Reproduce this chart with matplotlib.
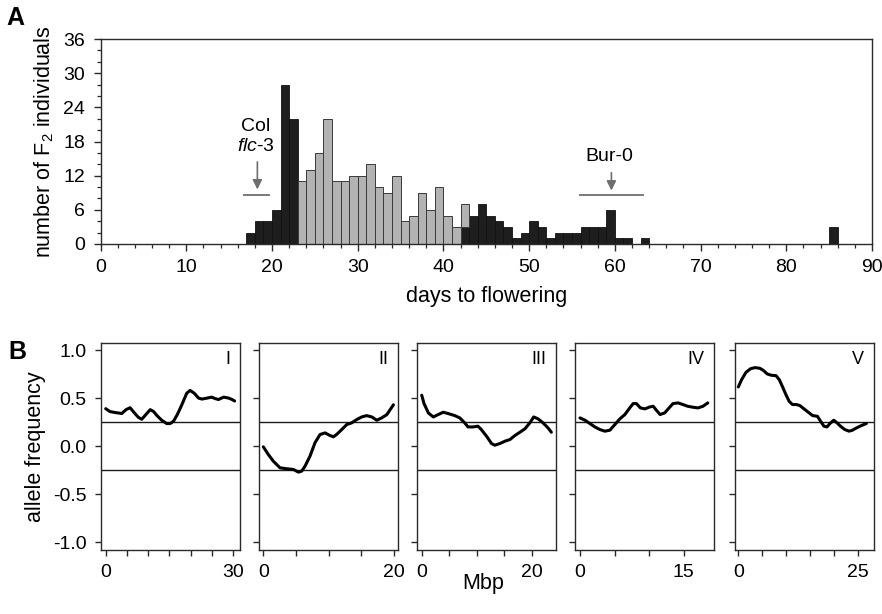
import matplotlib
matplotlib.use("Agg")
import matplotlib.pyplot as plt
from matplotlib.ticker import MultipleLocator, FixedLocator, FixedFormatter
import numpy as np

plt.rcParams['font.family'] = ['Liberation Sans', 'DejaVu Sans']
plt.rcParams['mathtext.fontset'] = 'custom'
plt.rcParams['mathtext.rm'] = 'Liberation Sans'
plt.rcParams['mathtext.it'] = 'Liberation Sans:italic'

# ---------------- Panel A data ----------------
black_days = [17, 18, 19, 20, 21, 22,
              42, 43, 44, 45, 46, 47, 48, 49, 50, 51, 52, 53, 54, 55, 56, 57, 58, 59, 60, 61, 63, 85]
black_counts = [2, 4, 4, 6, 28, 22,
                3, 5, 7, 5, 4, 3, 1, 2, 4, 3, 1, 2, 2, 2, 3, 3, 3, 6, 1, 1, 1, 3]
grey_days = [23, 24, 25, 26, 27, 28, 29, 30, 31, 32, 33, 34, 35, 36, 37, 38, 39, 40, 41, 42]
grey_counts = [11, 13, 16, 22, 11, 11, 12, 12, 14, 10, 9, 12, 4, 5, 9, 6, 10, 5, 3, 4]
grey_bottom = [0] * 19 + [3]

# ---------------- Panel B data ----------------
chrom_names = ["I", "II", "III", "IV", "V"]
chrom_xlims = [(-1.18, 31.6), (-0.66, 20.6), (-0.8, 24.4), (-0.72, 19.4), (-0.69, 28.3)]
chrom_ticklabels = [(0, 30), (0, 20), (0, 20), (0, 15), (0, 25)]

chr1_pos = [0, 1.0, 2.2, 3.8, 4.8, 5.75, 6.5, 7.7, 8.5, 9.3, 10.5, 11.3, 12.05, 13.2, 14.4, 15.2,
            16.0, 16.9, 17.95, 19.1, 19.9, 20.9, 21.9, 22.7, 23.9, 25.0, 25.8, 26.6, 27.8, 29.0, 29.8, 30.4]
chr1_freq = [0.39, 0.36, 0.35, 0.34, 0.38, 0.40, 0.36, 0.30, 0.28, 0.32, 0.38, 0.36, 0.32, 0.27, 0.235, 0.235,
             0.26, 0.33, 0.43, 0.55, 0.58, 0.55, 0.50, 0.49, 0.50, 0.51, 0.495, 0.485, 0.51, 0.50, 0.485, 0.47]

chr2_pos = [0, 0.77, 1.53, 2.55, 3.57, 4.6, 5.36, 5.87, 6.38, 7.14, 7.9, 8.67, 9.44, 10.2, 10.7, 11.2,
            12.0, 12.76, 13.5, 14.3, 15.05, 15.8, 16.6, 17.35, 18.1, 18.9, 19.4, 19.9]
chr2_freq = [-0.007, -0.087, -0.156, -0.225, -0.235, -0.242, -0.27, -0.26, -0.208, -0.104, 0.035, 0.121,
             0.138, 0.111, 0.097, 0.121, 0.173, 0.225, 0.242, 0.277, 0.304, 0.318, 0.304, 0.27, 0.294,
             0.329, 0.38, 0.43]

chr3_pos = [0, 0.42, 1.2, 2.1, 3.0, 3.9, 4.8, 6.0, 6.9, 7.8, 8.4, 9.3, 10.2, 10.8, 11.75, 12.65, 13.25,
            14.2, 15.1, 16.0, 16.9, 17.8, 18.7, 19.6, 20.3, 21.1, 22.0, 22.9, 23.5]
chr3_freq = [0.53, 0.443, 0.346, 0.304, 0.329, 0.353, 0.339, 0.318, 0.294, 0.242, 0.2, 0.2, 0.208, 0.173,
             0.104, 0.028, 0.01, 0.028, 0.052, 0.069, 0.111, 0.145, 0.18, 0.242, 0.304, 0.284, 0.242,
             0.19, 0.145]

chr4_pos = [0, 0.72, 1.44, 2.16, 2.88, 3.6, 4.33, 5.05, 5.77, 6.5, 7.1, 7.7, 8.17, 8.75, 9.4, 10.1, 10.6,
            11.06, 11.6, 12.26, 12.9, 13.46, 14.2, 14.9, 15.6, 16.35, 17.07, 17.8, 18.5]
chr4_freq = [0.294, 0.27, 0.235, 0.2, 0.173, 0.156, 0.166, 0.225, 0.284, 0.329, 0.388, 0.443, 0.443,
             0.398, 0.388, 0.408, 0.415, 0.374, 0.329, 0.346, 0.398, 0.443, 0.45, 0.433, 0.415, 0.405,
             0.398, 0.415, 0.45]

chr5_pos = [0, 0.69, 1.6, 2.57, 3.47, 4.5, 5.2, 6.04, 6.94, 7.85, 8.54, 9.24, 9.93, 10.6, 11.3, 12.15,
            12.85, 13.7, 14.6, 15.5, 16.5, 17.15, 17.85, 18.5, 19.1, 19.9, 20.6, 21.3, 22.2, 23.1, 23.8,
            24.65, 25.7, 26.7]
chr5_freq = [0.616, 0.692, 0.768, 0.806, 0.817, 0.81, 0.789, 0.751, 0.737, 0.734, 0.692, 0.616, 0.536,
             0.467, 0.433, 0.433, 0.422, 0.388, 0.353, 0.318, 0.311, 0.26, 0.208, 0.2, 0.235, 0.27, 0.242,
             0.208, 0.173, 0.156, 0.166, 0.19, 0.215, 0.235]

chrom_pos = [chr1_pos, chr2_pos, chr3_pos, chr4_pos, chr5_pos]
chrom_freq = [chr1_freq, chr2_freq, chr3_freq, chr4_freq, chr5_freq]
thresholds = [0.25, -0.25]

W, H = 882, 614
fig = plt.figure(figsize=(W / 100, H / 100), dpi=100)

def fx(px):
    return px / W

def fy(py):
    return 1 - py / H

spine_col = '#2a2a2a'
tick_fs = 14
label_fs = 15.5

# ---------------- Panel A ----------------
axA = fig.add_axes([fx(100.5), fy(244), fx(872 - 100.5), (244 - 39) / H])
axA.bar(black_days, black_counts, width=1.0, align='edge', color='#1e1e1e',
        edgecolor='#111111', linewidth=0.6, zorder=2)
axA.bar(grey_days, grey_counts, width=1.0, align='edge', bottom=grey_bottom, color='#b3b3b3',
        edgecolor='#3a3a3a', linewidth=0.7, zorder=2)
axA.set_xlim(0, 90)
axA.set_ylim(0, 36)
axA.xaxis.set_major_locator(MultipleLocator(10))
axA.xaxis.set_minor_locator(MultipleLocator(2))
axA.yaxis.set_major_locator(MultipleLocator(6))
axA.yaxis.set_minor_locator(MultipleLocator(2))
axA.tick_params(which='major', direction='out', length=5, width=1.0, color=spine_col,
                labelsize=tick_fs, pad=6)
axA.tick_params(which='minor', direction='out', length=3, width=0.9, color=spine_col)
for s in axA.spines.values():
    s.set_linewidth(1.0)
    s.set_color(spine_col)
axA.set_xlabel('days to flowering', fontsize=label_fs, labelpad=7)
axA.set_ylabel('number of F$_2$ individuals', fontsize=label_fs, labelpad=5)

arrow_col = '#6e6e6e'
axA.plot([16.7, 19.7], [8.6, 8.6], color=arrow_col, lw=1.3)
axA.annotate('', xy=(18.3, 9.1), xytext=(18.3, 14.9),
             arrowprops=dict(arrowstyle='-|>', color=arrow_col, lw=1.2, mutation_scale=14))
axA.text(18.1, 20.6, 'Col', ha='center', va='center', fontsize=14)
axA.text(18.1, 17.2, r'$\mathit{flc}$-3', ha='center', va='center', fontsize=14)
axA.plot([55.9, 63.3], [8.6, 8.6], color=arrow_col, lw=1.3)
axA.annotate('', xy=(59.6, 8.9), xytext=(59.6, 13.0),
             arrowprops=dict(arrowstyle='-|>', color=arrow_col, lw=1.2, mutation_scale=14))
axA.text(59.3, 15.4, 'Bur-0', ha='center', va='center', fontsize=14)

fig.text(fx(15), fy(18), 'A', fontsize=18, fontweight='bold', ha='center', va='center')
fig.text(fx(17), fy(352), 'B', fontsize=18, fontweight='bold', ha='center', va='center')

# ---------------- Panel B ----------------
panel_lefts = [100.7, 259, 417.3, 575, 735]
panel_width = 139
top_px, bot_px = 343.3, 550
for i in range(5):
    ax = fig.add_axes([fx(panel_lefts[i]), fy(bot_px), panel_width / W, (bot_px - top_px) / H])
    for t in thresholds:
        ax.axhline(t, color='#1a1a1a', lw=1.0, zorder=1)
    ax.plot(chrom_pos[i], chrom_freq[i], color='black', lw=2.2, zorder=3,
            solid_capstyle='round', solid_joinstyle='round')
    ax.set_xlim(*chrom_xlims[i])
    ax.set_ylim(-1.08, 1.07)
    lo, hi = chrom_ticklabels[i]
    ticks = list(range(lo, hi + 1, 5))
    ax.xaxis.set_major_locator(FixedLocator(ticks))
    ax.xaxis.set_major_formatter(FixedFormatter([str(t) if t in (lo, hi) else '' for t in ticks]))
    ax.yaxis.set_major_locator(FixedLocator([-1.0, -0.5, 0.0, 0.5, 1.0]))
    if i == 0:
        ax.set_yticklabels(['-1.0', '-0.5', '0.0', '0.5', '1.0'])
        ax.set_ylabel('allele frequency', fontsize=label_fs, labelpad=5)
    else:
        ax.set_yticklabels([])
    ax.tick_params(direction='out', length=4, width=1.0, color=spine_col, labelsize=tick_fs, pad=6)
    for s in ax.spines.values():
        s.set_linewidth(1.0)
        s.set_color(spine_col)
    ax.text(0.93, 0.92, chrom_names[i], transform=ax.transAxes, ha='right', va='center', fontsize=13)

fig.text(fx(483), fy(583), 'Mbp', fontsize=label_fs, ha='center', va='center')

fig.savefig('out.png', dpi=100)
